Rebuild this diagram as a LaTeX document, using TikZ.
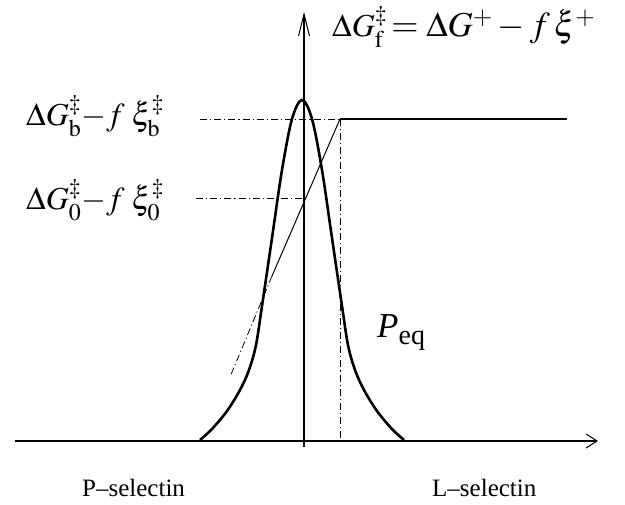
\documentclass[tikz,border=0pt]{standalone}
\usepackage{mathptmx}
\usepackage[no-math]{fontspec}
\setmainfont{Liberation Serif}
\DeclareMathSizes{32}{32}{24}{18}
\DeclareMathSizes{33}{33}{24}{18}
\DeclareMathSizes{35}{35}{25}{19}
\usetikzlibrary{arrows.meta}
\tikzset{
  haxis/.style={line width=1.6pt,-{Straight Barb[length=11pt,width=14pt,line width=1pt]}},
  vaxis/.style={line width=1.6pt,-{Straight Barb[length=22pt,width=11pt,line width=1pt]}},
  dashdot/.style={line width=0.8pt,dash pattern=on 7pt off 3pt on 1.2pt off 3pt},
  bell/.style={line width=2.6pt},
  lbl/.style={inner sep=0pt,anchor=base west},
}
\begin{document}
\begin{tikzpicture}[x=1pt,y=-1pt]
\useasboundingbox (0,0) rectangle (625,505);
% coordinates
\coordinate (xl) at (15,441);
\coordinate (xr) at (598,441);
\coordinate (yb) at (304,447);
\coordinate (yt) at (304,12);
\coordinate (corner) at (340,119);
\coordinate (hend) at (567,119);
\coordinate (bstart) at (200,119);
\coordinate (zstart) at (196,198);
\coordinate (zend) at (304,198);
\coordinate (vbot) at (340,441);
\coordinate (smid) at (272,276);
\coordinate (send) at (230,377);
% axes
\draw[haxis] (xl) -- (xr);
\draw[vaxis] (yb) -- (yt);
% bell curve
\begin{scope}[xshift=302pt]
\draw[bell] plot[smooth,tension=0.55] coordinates {
 (-102,440) (-90,429) (-75,411) (-62,390) (-53,370) (-46,345) (-40,306) (-30,238) (-20,170) (-10,119)
 (0,100)
 (10,119) (20,170) (30,238) (40,306) (46,345) (53,370) (62,390) (75,411) (90,429) (102,440)};
\end{scope}
% lines
\draw[line width=2.4pt] (corner) -- (hend);
\draw[dashdot] (bstart) -- (corner);
\draw[dashdot] (zstart) -- (zend);
\draw[dashdot] (corner) -- (vbot);
\draw[line width=1pt] (corner) -- (smid);
\draw[dashdot] (smid) -- (send);
% labels
\node[lbl] (top) at (332,37) {\fontsize{32}{35}\selectfont $\Delta G^{\ddagger}_{\mathrm{f}}$\fontsize{35}{38}\selectfont$\,=\Delta G^{+} - f\,\xi^{+}$};
\node[lbl] (lb) at (26,126) {\fontsize{32}{34}\selectfont $\Delta G^{\ddagger}_{\mathrm{b}}{-}f\;\xi^{\ddagger}_{\mathrm{b}}$};
\node[lbl] (l0) at (26,210) {\fontsize{32}{34}\selectfont $\Delta G^{\ddagger}_{0}{-}f\;\xi^{\ddagger}_{0}$};
\node[lbl] (peq) at (377,338) {\fontsize{35}{38}\selectfont\itshape P\upshape\raisebox{-7pt}{\fontsize{28}{30}\selectfont eq}};
\node[lbl] (psel) at (82,497) {\fontsize{25}{28}\selectfont P–selectin};
\node[lbl] (lsel) at (432,497) {\fontsize{25}{28}\selectfont L–selectin};
\end{tikzpicture}
\end{document}
